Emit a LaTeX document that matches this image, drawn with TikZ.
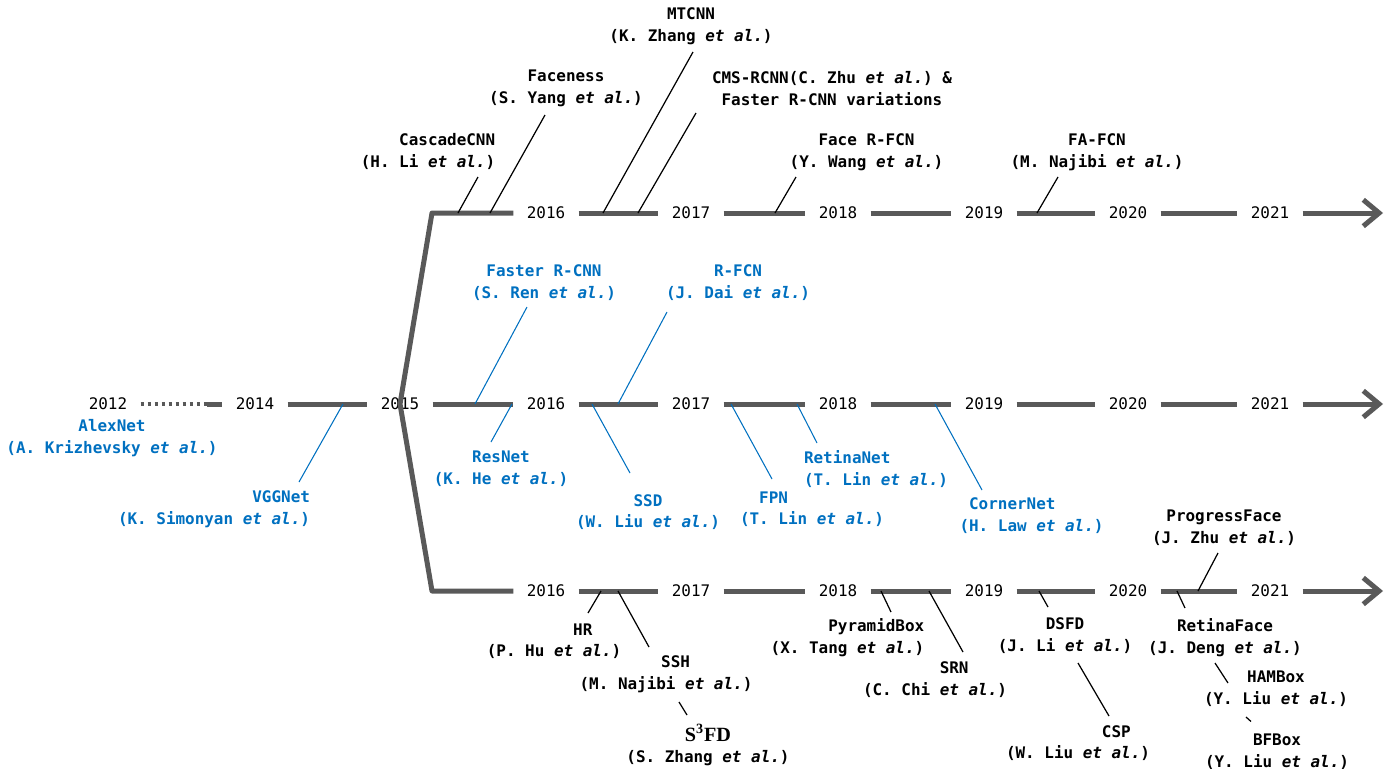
\documentclass[tikz,border=0pt]{standalone}
\usepackage{fontspec}
\setmonofont{DejaVu Sans Mono}
\newfontfamily\sfdfont{Liberation Serif}
\usetikzlibrary{positioning,arrows.meta}
\definecolor{tlgray}{HTML}{595959}
\definecolor{netblue}{HTML}{0070C0}
\newcommand{\etal}{\textit{et al.}}
\newcommand{\tlfont}{\ttfamily\fontsize{9.07}{12.3}\selectfont}
\newcommand{\sfd}{{\sfdfont\bfseries\fontsize{11.5}{12.3}\selectfont S\textsuperscript{3}FD}}
\tikzset{
  year/.style={font=\tlfont, inner xsep=0.26cm, inner ysep=0pt},
  tline/.style={line width=2.85pt, draw=tlgray},
  tarrow/.style={tline, -{Straight Barb[length=9pt,width=15pt]}},
  lbl/.style={font=\tlfont\bfseries, align=center, inner sep=0pt},
  blbl/.style={lbl, text=netblue},
  conn/.style={line width=0.7pt},
  bconn/.style={line width=0.6pt, draw=netblue},
}

\begin{document}
\begin{tikzpicture}
            \useasboundingbox (0,0) rectangle (27.70,-15.38);
            \node[year] (m2012) at (2.16,-8.08) {2012};
            \node[year, on grid, right=2.94cm of m2012] (m2014) {2014};
            \node[year, on grid, right=2.90cm of m2014] (m2015) {2015};
            \node[year, on grid, right=2.92cm of m2015] (m2016) {2016};
            \node[year, on grid, right=2.90cm of m2016] (m2017) {2017};
            \node[year, on grid, right=2.94cm of m2017] (m2018) {2018};
            \node[year, on grid, right=2.92cm of m2018] (m2019) {2019};
            \node[year, on grid, right=2.88cm of m2019] (m2020) {2020};
            \node[year, on grid, right=2.84cm of m2020] (m2021) {2021};
            \coordinate[on grid, right=1.98cm of m2012] (dotend);
            \coordinate[on grid, right=2.26cm of m2021] (mend);
            \node[year, on grid, above=3.82cm of m2016] (t2016) {2016};
            \node[year, on grid, above=3.82cm of m2017] (t2017) {2017};
            \node[year, on grid, above=3.82cm of m2018] (t2018) {2018};
            \node[year, on grid, above=3.82cm of m2019] (t2019) {2019};
            \node[year, on grid, above=3.82cm of m2020] (t2020) {2020};
            \node[year, on grid, above=3.82cm of m2021] (t2021) {2021};
            \coordinate[on grid, right=2.26cm of t2021] (tend);
            \coordinate[on grid, left=2.28cm of t2016] (tcorner);
            \node[year, on grid, below=3.74cm of m2016] (b2016) {2016};
            \node[year, on grid, below=3.74cm of m2017] (b2017) {2017};
            \node[year, on grid, below=3.74cm of m2018] (b2018) {2018};
            \node[year, on grid, below=3.74cm of m2019] (b2019) {2019};
            \node[year, on grid, below=3.74cm of m2020] (b2020) {2020};
            \node[year, on grid, below=3.74cm of m2021] (b2021) {2021};
            \coordinate[on grid, right=2.26cm of b2021] (bend);
            \coordinate[on grid, left=2.28cm of b2016] (bcorner);
            \draw[tline, line width=2.2pt, dash pattern=on 2.1pt off 1.9pt] (m2012.east) -- (dotend);
            \draw[tline] (dotend) -- (m2014.west);
            \draw[tline] (m2014.east) -- (m2015.west);
            \draw[tline] (m2015.east) -- (m2016.west);
            \draw[tline] (m2016.east) -- (m2017.west);
            \draw[tline] (m2017.east) -- (m2018.west);
            \draw[tline] (m2018.east) -- (m2019.west);
            \draw[tline] (m2019.east) -- (m2020.west);
            \draw[tline] (m2020.east) -- (m2021.west);
            \draw[tarrow] (m2021.east) -- (mend);
            \draw[tline] (t2016.east) -- (t2017.west);
            \draw[tline] (t2017.east) -- (t2018.west);
            \draw[tline] (t2018.east) -- (t2019.west);
            \draw[tline] (t2019.east) -- (t2020.west);
            \draw[tline] (t2020.east) -- (t2021.west);
            \draw[tarrow] (t2021.east) -- (tend);
            \draw[tline] (b2016.east) -- (b2017.west);
            \draw[tline] (b2017.east) -- (b2018.west);
            \draw[tline] (b2018.east) -- (b2019.west);
            \draw[tline] (b2019.east) -- (b2020.west);
            \draw[tline] (b2020.east) -- (b2021.west);
            \draw[tarrow] (b2021.east) -- (bend);
            \draw[tline, line join=round] (t2016.west) -- (tcorner) -- (m2015.center) -- (bcorner) -- (b2016.west);
            \node[lbl, align=right, on grid, above left=1.23cm and 2.36cm of t2016] (cascade) {CascadeCNN\\(H. Li \etal)};
            \node[lbl, on grid, above right=2.49cm and 0.40cm of t2016] (faceness) {Faceness\\(S. Yang \etal)};
            \node[lbl, on grid, above=3.74cm of t2017] (mtcnn) {MTCNN\\(K. Zhang \etal)};
            \node[lbl, on grid, above left=2.49cm and 0.12cm of t2018] (cmsrcnn) {CMS-RCNN(C. Zhu \etal) \&\\Faster R-CNN variations};
            \node[lbl, on grid, above right=1.21cm and 0.57cm of t2018] (facerfcn) {Face R-FCN\\(Y. Wang \etal)};
            \node[lbl, on grid, above left=1.21cm and 0.62cm of t2020] (fafcn) {FA-FCN\\(M. Najibi \etal)};
            \draw[conn] ([shift={(1.00,-0.51)}]cascade.center) -- ([xshift=-1.76cm]t2016.center);
            \draw[conn] ([shift={(-0.42,-0.53)}]faceness.center) -- ([xshift=-1.12cm]t2016.center);
            \draw[conn] ([shift={(0.04,-0.52)}]mtcnn.center) -- ([xshift=1.14cm]t2016.center);
            \draw[conn] ([shift={(-2.72,-0.49)}]cmsrcnn.center) -- ([xshift=1.84cm]t2016.center);
            \draw[conn] ([shift={(-1.41,-0.49)}]facerfcn.center) -- ([xshift=-1.26cm]t2018.center);
            \draw[conn] ([shift={(-0.78,-0.49)}]fafcn.center) -- ([xshift=1.06cm]t2019.center);
            \node[blbl, on grid, below right=0.68cm and 0.08cm of m2012] (alexnet) {AlexNet\\(A. Krizhevsky \etal)};
            \node[blbl, align=right, on grid, below left=2.11cm and 0.82cm of m2014] (vggnet) {VGGNet\\(K. Simonyan \etal)};
            \node[blbl, on grid, above left=2.43cm and 0.04cm of m2016] (fasterrcnn) {Faster R-CNN\\(S. Ren \etal)};
            \node[blbl, on grid, above right=2.43cm and 0.94cm of m2017] (rfcn) {R-FCN\\(J. Dai \etal)};
            \node[blbl, on grid, below left=1.30cm and 0.90cm of m2016] (resnet) {ResNet\\(K. He \etal)};
            \node[blbl, on grid, below left=2.16cm and 0.86cm of m2017] (ssd) {SSD\\(W. Liu \etal)};
            \node[blbl, on grid, below left=2.10cm and 0.52cm of m2018] (fpn) {FPN\phantom{00000000}\\(T. Lin \etal)};
            \node[blbl, align=left, on grid, below right=1.30cm and 0.76cm of m2018] (retinanet) {RetinaNet\\(T. Lin \etal)};
            \node[blbl, on grid, below right=2.23cm and 0.95cm of m2019] (cornernet) {CornerNet\phantom{0000}\\(H. Law \etal)};
            \draw[bconn] ([xshift=1.76cm]m2014.center) -- ([shift={(1.70,0.55)}]vggnet.center);
            \draw[bconn] ([shift={(-0.34,-0.49)}]fasterrcnn.center) -- ([xshift=-1.42cm]m2016.center);
            \draw[bconn] ([shift={(-1.42,-0.59)}]rfcn.center) -- ([xshift=1.44cm]m2016.center);
            \draw[bconn] ([xshift=-0.68cm]m2016.center) -- ([shift={(-0.20,0.54)}]resnet.center);
            \draw[bconn] ([xshift=0.92cm]m2016.center) -- ([shift={(-0.36,0.78)}]ssd.center);
            \draw[bconn] ([xshift=0.80cm]m2017.center) -- ([shift={(-0.80,0.60)}]fpn.center);
            \draw[bconn] ([xshift=-0.82cm]m2018.center) -- ([shift={(-1.18,0.52)}]retinanet.center);
            \draw[bconn] ([xshift=1.94cm]m2018.center) -- ([shift={(-0.99,0.51)}]cornernet.center);
            \node[lbl, on grid, below right=1.00cm and 0.16cm of b2016] (hr) {\phantom{000000}HR\\(P. Hu \etal)};
            \node[lbl, on grid, below left=1.67cm and 0.50cm of b2017] (ssh) {\phantom{00}SSH\\(M. Najibi \etal)};
            \node[lbl, on grid, below right=3.08cm and 0.34cm of b2017] (s3fd) {\sfd\\(S. Zhang \etal)};
            \node[lbl, align=right, on grid, below right=0.93cm and 0.19cm of b2018] (pyramidbox) {PyramidBox\\(X. Tang \etal)};
            \node[lbl, on grid, below left=1.77cm and 0.98cm of b2019] (srn) {\phantom{0000}SRN\\(C. Chi \etal)};
            \node[lbl, on grid, below right=0.89cm and 1.62cm of b2019] (dsfd) {DSFD\\(J. Li \etal)};
            \node[lbl, on grid, below left=3.04cm and 1.00cm of b2020] (csp) {\phantom{00000000}CSP\\(W. Liu \etal)};
            \node[lbl, on grid, below left=0.93cm and 0.90cm of b2021] (retinaface) {RetinaFace\\(J. Deng \etal)};
            \node[lbl, on grid, above left=1.27cm and 0.92cm of b2021] (progressface) {ProgressFace\\(J. Zhu \etal)};
            \node[lbl, on grid, below right=1.96cm and 0.12cm of b2021] (hambox) {HAMBox\\(Y. Liu \etal)};
            \node[lbl, on grid, below right=3.22cm and 0.14cm of b2021] (bfbox) {BFBox\\(Y. Liu \etal)};
            \draw[conn] ([xshift=1.10cm]b2016.center) -- ([shift={(0.68,0.56)}]hr.center);
            \draw[conn] ([xshift=1.44cm]b2016.center) -- ([shift={(-0.34,0.55)}]ssh.center);
            \draw[conn] ([shift={(0.26,-0.55)}]ssh.center) -- ([shift={(-0.42,0.60)}]s3fd.center);
            \draw[conn] ([xshift=0.86cm]b2018.center) -- ([shift={(0.87,0.51)}]pyramidbox.center);
            \draw[conn] ([xshift=1.82cm]b2018.center) -- ([shift={(0.56,0.55)}]srn.center);
            \draw[conn] ([xshift=1.10cm]b2019.center) -- ([shift={(-0.34,0.57)}]dsfd.center);
            \draw[conn] ([shift={(0.26,-0.55)}]dsfd.center) -- ([shift={(0.62,0.54)}]csp.center);
            \draw[conn] ([xshift=0.98cm]b2020.center) -- ([shift={(-0.80,0.59)}]retinaface.center);
            \draw[conn] ([shift={(-0.12,-0.51)}]progressface.center) -- ([xshift=1.40cm]b2020.center);
            \draw[conn] ([shift={(-0.20,-0.51)}]retinaface.center) -- ([shift={(-0.96,0.12)}]hambox.center);
            \draw[conn] ([shift={(-0.60,-0.56)}]hambox.center) -- ([shift={(-0.52,0.61)}]bfbox.center);
          \end{tikzpicture}
\end{document}
